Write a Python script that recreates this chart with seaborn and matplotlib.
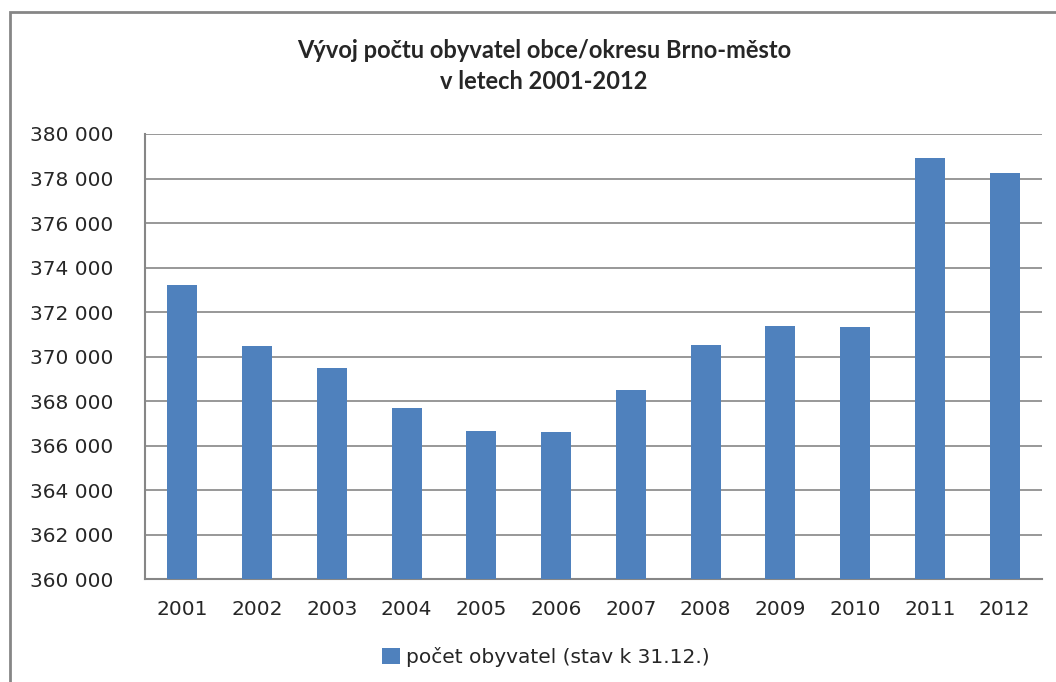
import matplotlib
matplotlib.use("Agg")
import matplotlib.pyplot as plt
import matplotlib.ticker as mticker
from matplotlib.patches import Rectangle
import numpy as np
import pandas as pd
import seaborn as sns

sns.set_style("white")
plt.rcParams['font.family'] = ['DejaVu Sans']

years = ['2001', '2002', '2003', '2004', '2005', '2006',
         '2007', '2008', '2009', '2010', '2011', '2012']
population = [373230, 370490, 369500, 367700, 366670, 366620,
              368510, 370540, 371390, 371340, 378940, 378270]
series_label = 'počet obyvatel (stav k 31.12.)'
title = 'Vývoj počtu obyvatel obce/okresu Brno-město\nv letech 2001-2012'

df = pd.DataFrame({'rok': years, 'obyvatel': population})

bar_color = '#4F81BD'
grid_color = '#868686'

fig = plt.figure(figsize=(10.56, 6.82), dpi=100)
ax = fig.add_axes([145 / 1056, 1 - 579.3 / 682, (1042 - 145) / 1056, (579.3 - 134) / 682])

sns.barplot(data=df, x='rok', y='obyvatel', color=bar_color, width=0.4,
            saturation=1, linewidth=0, ax=ax, zorder=3)

ax.set_ylim(360000, 380000)
ax.set_xlim(-0.5, len(years) - 0.5)
ax.yaxis.set_major_locator(mticker.MultipleLocator(2000))
ax.yaxis.set_major_formatter(mticker.FuncFormatter(lambda v, p: f'{int(v):,}'.replace(',', ' ')))
ax.grid(axis='y', color=grid_color, linewidth=1.2, zorder=0)
ax.set_axisbelow(True)

ax.set_xlabel('')
ax.set_ylabel('')

# category boundaries as tick marks
ax.set_xticks(np.arange(-0.5, len(years), 1), minor=True)
ax.tick_params(axis='x', which='minor', length=10, width=1.2, color=grid_color, direction='out')
ax.tick_params(axis='x', which='major', length=0, pad=15, labelsize=14.5)
ax.tick_params(axis='y', which='major', length=9, width=1.2, color=grid_color,
               direction='out', labelsize=14.5, pad=14)

for s in ['top', 'right']:
    ax.spines[s].set_visible(False)
for s in ['left', 'bottom']:
    ax.spines[s].set_color(grid_color)
    ax.spines[s].set_linewidth(1.5)

fig.text(0.515, 1 - 66 / 682, title, ha='center', va='center', fontsize=17,
         fontweight='bold', family=['Lato', 'DejaVu Sans'], linespacing=1.45)

handle = Rectangle((0, 0), 1, 1, facecolor=bar_color, edgecolor='none')
fig.legend([handle], [series_label], loc='center', bbox_to_anchor=(546 / 1056, 1 - 657 / 682),
           frameon=False, fontsize=14.5, handlelength=0.9, handleheight=0.9, handletextpad=0.3)

# chart area border
fig.patches.append(Rectangle((10 / 1056, -0.1), 1.2, (682 - 12) / 682 + 0.1,
                             transform=fig.transFigure, fill=False,
                             edgecolor=grid_color, linewidth=2))

fig.savefig('out.png', dpi=100)
